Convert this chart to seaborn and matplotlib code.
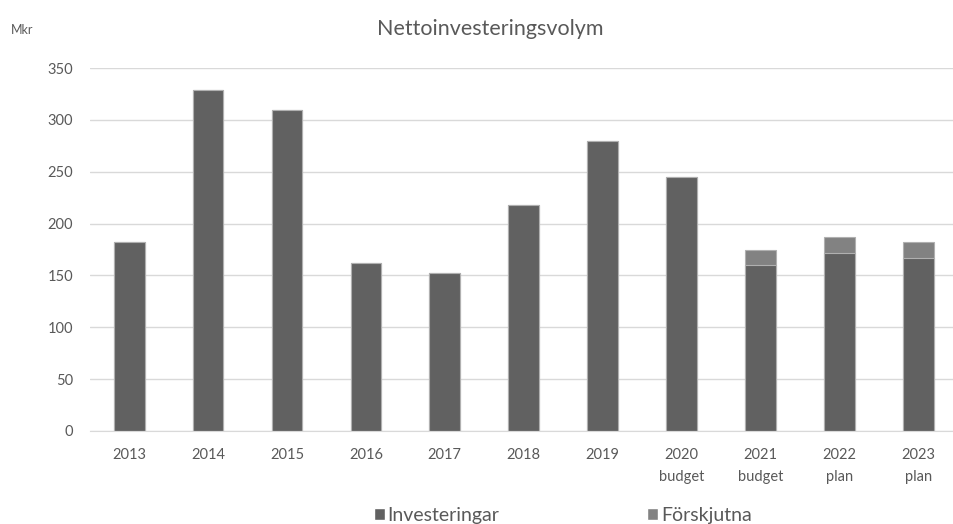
import numpy as np
import pandas as pd
import seaborn as sns
import matplotlib.pyplot as plt
from matplotlib.patches import Patch

# Data (Mkr)
kategorier = ["2013", "2014", "2015", "2016", "2017", "2018", "2019",
              "2020\nbudget", "2021\nbudget", "2022\nplan", "2023\nplan"]
investeringar = [182, 329, 310, 162, 152, 218, 280, 245, 160, 172, 167]
forskjutna = [0, 0, 0, 0, 0, 0, 0, 0, 15, 15, 15]

MORK = "#616161"
LJUS = "#828282"
TEXT = "#595959"

df = pd.DataFrame({
    "kategori": kategorier,
    "Investeringar": investeringar,
    "Förskjutna": forskjutna,
})
df["total"] = df["Investeringar"] + df["Förskjutna"]

sns.set_style("white")
plt.rcParams["font.family"] = ["Lato", "DejaVu Sans"]

fig = plt.figure(figsize=(9.54, 5.24), dpi=100)
ax = fig.add_axes([0.094, 0.1775, 0.91, 0.6925])

# stacked bars: total first (light), then investeringar on top (dark)
sns.barplot(data=df, x="kategori", y="total", color=LJUS, width=0.39,
            edgecolor="#b0b0b0", linewidth=0.8, saturation=1, ax=ax)
sns.barplot(data=df, x="kategori", y="Investeringar", color=MORK, width=0.39,
            edgecolor="#b0b0b0", linewidth=0.8, saturation=1, ax=ax)

ax.set_ylim(0, 350)
ax.set_yticks(np.arange(0, 351, 50))
ax.set_xlim(-0.5, len(kategorier) - 0.5)
ax.yaxis.grid(True, color="#d9d9d9", linewidth=1)
ax.set_axisbelow(True)
for side in ["top", "right", "left"]:
    ax.spines[side].set_visible(False)
ax.spines["bottom"].set_color("#d9d9d9")
ax.tick_params(axis="both", length=0, labelsize=10.5, colors=TEXT)
ax.tick_params(axis="x", pad=12)
ax.tick_params(axis="y", pad=12)
for lbl in ax.get_xticklabels():
    lbl.set_linespacing(1.8)
ax.set_xlabel("")
ax.set_ylabel("")

fig.text(0.514, 0.945, "Nettoinvesteringsvolym", ha="center", va="center",
         fontsize=15.5, color=TEXT)
fig.text(0.011, 0.943, "Mkr", ha="left", va="center", fontsize=9, color=TEXT)

handles = [Patch(facecolor=MORK, label="Investeringar"),
           Patch(facecolor=LJUS, label="Förskjutna")]
fig.legend(handles=handles, loc="center", bbox_to_anchor=(0.59, 0.016),
           ncol=2, frameon=False, fontsize=14, labelcolor=TEXT,
           handlelength=0.55, handleheight=0.6, handletextpad=0.15,
           columnspacing=7.6, borderpad=0)

fig.savefig("out.png", dpi=100)
